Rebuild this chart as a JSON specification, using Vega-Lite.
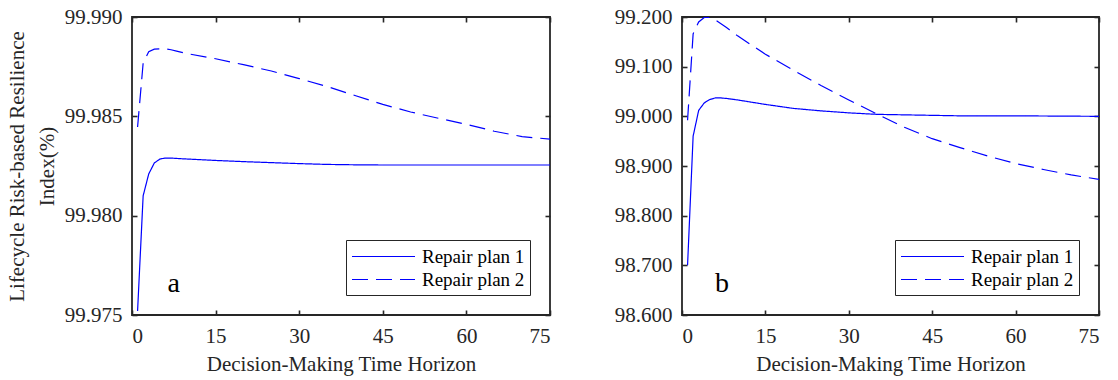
{
  "$schema": "https://vega.github.io/schema/vega-lite/v6.json",
  "background": "white",
  "padding": {"left": 5, "top": 5, "right": 5, "bottom": 5},
  "datasets": {
    "a": [
      {"t": 1, "plan": "Repair plan 1", "v": 99.9752},
      {"t": 2, "plan": "Repair plan 1", "v": 99.9810},
      {"t": 3, "plan": "Repair plan 1", "v": 99.9821},
      {"t": 4, "plan": "Repair plan 1", "v": 99.98265},
      {"t": 5, "plan": "Repair plan 1", "v": 99.98285},
      {"t": 6, "plan": "Repair plan 1", "v": 99.9829},
      {"t": 7, "plan": "Repair plan 1", "v": 99.9829},
      {"t": 8, "plan": "Repair plan 1", "v": 99.98288},
      {"t": 10, "plan": "Repair plan 1", "v": 99.98285},
      {"t": 15, "plan": "Repair plan 1", "v": 99.98278},
      {"t": 20, "plan": "Repair plan 1", "v": 99.98272},
      {"t": 25, "plan": "Repair plan 1", "v": 99.98267},
      {"t": 30, "plan": "Repair plan 1", "v": 99.98262},
      {"t": 35, "plan": "Repair plan 1", "v": 99.98258},
      {"t": 40, "plan": "Repair plan 1", "v": 99.98256},
      {"t": 45, "plan": "Repair plan 1", "v": 99.98255},
      {"t": 50, "plan": "Repair plan 1", "v": 99.98255},
      {"t": 60, "plan": "Repair plan 1", "v": 99.98255},
      {"t": 75, "plan": "Repair plan 1", "v": 99.98255},
      {"t": 1, "plan": "Repair plan 2", "v": 99.98446},
      {"t": 2, "plan": "Repair plan 2", "v": 99.98768},
      {"t": 3, "plan": "Repair plan 2", "v": 99.98825},
      {"t": 4, "plan": "Repair plan 2", "v": 99.98838},
      {"t": 5, "plan": "Repair plan 2", "v": 99.9884},
      {"t": 6, "plan": "Repair plan 2", "v": 99.9884},
      {"t": 7, "plan": "Repair plan 2", "v": 99.98835},
      {"t": 8, "plan": "Repair plan 2", "v": 99.98828},
      {"t": 10, "plan": "Repair plan 2", "v": 99.98815},
      {"t": 15, "plan": "Repair plan 2", "v": 99.9879},
      {"t": 20, "plan": "Repair plan 2", "v": 99.9876},
      {"t": 25, "plan": "Repair plan 2", "v": 99.98728},
      {"t": 30, "plan": "Repair plan 2", "v": 99.9869},
      {"t": 35, "plan": "Repair plan 2", "v": 99.9865},
      {"t": 40, "plan": "Repair plan 2", "v": 99.98605},
      {"t": 45, "plan": "Repair plan 2", "v": 99.9856},
      {"t": 50, "plan": "Repair plan 2", "v": 99.98522},
      {"t": 55, "plan": "Repair plan 2", "v": 99.9849},
      {"t": 60, "plan": "Repair plan 2", "v": 99.9846},
      {"t": 65, "plan": "Repair plan 2", "v": 99.98425},
      {"t": 70, "plan": "Repair plan 2", "v": 99.98398},
      {"t": 75, "plan": "Repair plan 2", "v": 99.98385}
    ],
    "b": [
      {"t": 1, "plan": "Repair plan 1", "v": 98.700},
      {"t": 2, "plan": "Repair plan 1", "v": 98.960},
      {"t": 3, "plan": "Repair plan 1", "v": 99.012},
      {"t": 4, "plan": "Repair plan 1", "v": 99.027},
      {"t": 5, "plan": "Repair plan 1", "v": 99.034},
      {"t": 6, "plan": "Repair plan 1", "v": 99.037},
      {"t": 7, "plan": "Repair plan 1", "v": 99.037},
      {"t": 8, "plan": "Repair plan 1", "v": 99.036},
      {"t": 10, "plan": "Repair plan 1", "v": 99.033},
      {"t": 15, "plan": "Repair plan 1", "v": 99.024},
      {"t": 20, "plan": "Repair plan 1", "v": 99.016},
      {"t": 25, "plan": "Repair plan 1", "v": 99.011},
      {"t": 30, "plan": "Repair plan 1", "v": 99.007},
      {"t": 35, "plan": "Repair plan 1", "v": 99.004},
      {"t": 40, "plan": "Repair plan 1", "v": 99.003},
      {"t": 45, "plan": "Repair plan 1", "v": 99.002},
      {"t": 50, "plan": "Repair plan 1", "v": 99.001},
      {"t": 60, "plan": "Repair plan 1", "v": 99.001},
      {"t": 75, "plan": "Repair plan 1", "v": 99.000},
      {"t": 1, "plan": "Repair plan 2", "v": 98.992},
      {"t": 2, "plan": "Repair plan 2", "v": 99.166},
      {"t": 3, "plan": "Repair plan 2", "v": 99.190},
      {"t": 4, "plan": "Repair plan 2", "v": 99.199},
      {"t": 5, "plan": "Repair plan 2", "v": 99.199},
      {"t": 6, "plan": "Repair plan 2", "v": 99.194},
      {"t": 8, "plan": "Repair plan 2", "v": 99.179},
      {"t": 10, "plan": "Repair plan 2", "v": 99.162},
      {"t": 15, "plan": "Repair plan 2", "v": 99.125},
      {"t": 20, "plan": "Repair plan 2", "v": 99.093},
      {"t": 25, "plan": "Repair plan 2", "v": 99.062},
      {"t": 30, "plan": "Repair plan 2", "v": 99.033},
      {"t": 35, "plan": "Repair plan 2", "v": 99.005},
      {"t": 40, "plan": "Repair plan 2", "v": 98.978},
      {"t": 45, "plan": "Repair plan 2", "v": 98.955},
      {"t": 50, "plan": "Repair plan 2", "v": 98.937},
      {"t": 55, "plan": "Repair plan 2", "v": 98.920},
      {"t": 60, "plan": "Repair plan 2", "v": 98.905},
      {"t": 65, "plan": "Repair plan 2", "v": 98.893},
      {"t": 70, "plan": "Repair plan 2", "v": 98.882},
      {"t": 75, "plan": "Repair plan 2", "v": 98.873}
    ],
    "labA": [{"t": 7.5, "v": 99.97656, "txt": "a"}],
    "labB": [{"t": 7.2, "v": 98.6625, "txt": "b"}]
  },
  "hconcat": [
    {
      "width": 418,
      "height": 298,
      "layer": [
        {
          "data": {"name": "a"},
          "mark": {"type": "line", "color": "#0000FF", "strokeWidth": 1.2, "clip": true},
          "encoding": {
            "x": {"field": "t", "type": "quantitative", "scale": {"domain": [0, 75], "nice": false, "zero": false},
                  "axis": {"values": [0, 15, 30, 45, 60, 75], "title": "Decision-Making Time Horizon", "format": "d"}},
            "y": {"field": "v", "type": "quantitative", "scale": {"domain": [99.975, 99.99], "nice": false, "zero": false},
                  "axis": {"values": [99.975, 99.98, 99.985, 99.99], "format": ".3f", "title": ["Lifecycle Risk-based Resilience", "Index(%)"]}},
            "strokeDash": {"field": "plan", "type": "nominal",
                  "scale": {"domain": ["Repair plan 1", "Repair plan 2"], "range": [[1, 0], [16, 8]]},
                  "legend": {"title": null, "orient": "bottom-right", "offset": 20}}
          }
        },
        {
          "data": {"name": "a"},
          "mark": {"type": "line", "opacity": 0},
          "encoding": {
            "x": {"field": "t", "type": "quantitative", "axis": {"orient": "top", "values": [0, 15, 30, 45, 60, 75], "labels": false, "title": null}},
            "y": {"field": "v", "type": "quantitative", "axis": {"orient": "right", "values": [99.975, 99.98, 99.985, 99.99], "labels": false, "title": null}},
            "detail": {"field": "plan"}
          }
        },
        {
          "data": {"name": "labA"},
          "mark": {"type": "text", "fontSize": 28, "font": "Liberation Serif", "color": "black"},
          "encoding": {
            "x": {"field": "t", "type": "quantitative", "axis": null},
            "y": {"field": "v", "type": "quantitative", "axis": null},
            "text": {"field": "txt"}
          }
        }
      ],
      "resolve": {"axis": {"x": "independent", "y": "independent"}}
    },
    {
      "width": 417,
      "height": 298,
      "layer": [
        {
          "data": {"name": "b"},
          "mark": {"type": "line", "color": "#0000FF", "strokeWidth": 1.2, "clip": true},
          "encoding": {
            "x": {"field": "t", "type": "quantitative", "scale": {"domain": [0, 75], "nice": false, "zero": false},
                  "axis": {"values": [0, 15, 30, 45, 60, 75], "title": "Decision-Making Time Horizon", "format": "d"}},
            "y": {"field": "v", "type": "quantitative", "scale": {"domain": [98.6, 99.2], "nice": false, "zero": false},
                  "axis": {"values": [98.6, 98.7, 98.8, 98.9, 99.0, 99.1, 99.2], "format": ".3f", "title": null}},
            "strokeDash": {"field": "plan", "type": "nominal",
                  "scale": {"domain": ["Repair plan 1", "Repair plan 2"], "range": [[1, 0], [16, 8]]},
                  "legend": {"title": null, "orient": "bottom-right", "offset": 20}}
          }
        },
        {
          "data": {"name": "b"},
          "mark": {"type": "line", "opacity": 0},
          "encoding": {
            "x": {"field": "t", "type": "quantitative", "axis": {"orient": "top", "values": [0, 15, 30, 45, 60, 75], "labels": false, "title": null}},
            "y": {"field": "v", "type": "quantitative", "axis": {"orient": "right", "values": [98.6, 98.7, 98.8, 98.9, 99.0, 99.1, 99.2], "labels": false, "title": null}},
            "detail": {"field": "plan"}
          }
        },
        {
          "data": {"name": "labB"},
          "mark": {"type": "text", "fontSize": 28, "font": "Liberation Serif", "color": "black"},
          "encoding": {
            "x": {"field": "t", "type": "quantitative", "axis": null},
            "y": {"field": "v", "type": "quantitative", "axis": null},
            "text": {"field": "txt"}
          }
        }
      ],
      "resolve": {"axis": {"x": "independent", "y": "independent"}}
    }
  ],
  "spacing": 132,
  "bounds": "flush",
  "resolve": {"scale": {"y": "independent", "x": "independent", "strokeDash": "independent"}, "legend": {"strokeDash": "independent"}},
  "config": {
    "font": "Liberation Serif",
    "style": {"guide-label": {"font": "Liberation Serif"}, "guide-title": {"font": "Liberation Serif"}},
    "view": {"stroke": "#262626", "strokeWidth": 1.8},
    "axis": {
      "labelFont": "Liberation Serif", "labelFontSize": 21, "labelColor": "#262626",
      "titleFont": "Liberation Serif", "titleFontSize": 21, "titleFontWeight": "normal", "titleColor": "#262626", "titlePadding": 7,
      "domain": false, "tickColor": "#262626", "tickWidth": 1.6, "tickSize": -5, "ticks": true, "zindex": 1,
      "labelPadding": 15, "grid": false, "titleLineHeight": 30
    },
    "legend": {
      "labelFont": "Liberation Serif", "labelFontSize": 19, "labelColor": "black",
      "strokeColor": "#262626", "fillColor": "white", "padding": 5, "symbolType": "M-3,0H3",
      "symbolStrokeColor": "#0000FF", "symbolStrokeWidth": 1.2, "symbolSize": 441, "symbolOffset": 21,
      "rowPadding": 1, "labelOffset": 27
    }
  }
}
